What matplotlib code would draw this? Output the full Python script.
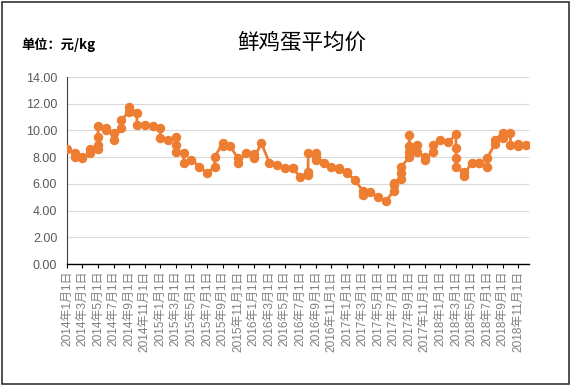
import matplotlib
matplotlib.use("Agg")
import matplotlib.pyplot as plt
from matplotlib.patches import Rectangle

plt.rcParams['font.family'] = ['Noto Sans CJK SC', 'DejaVu Sans']

# Month index 0 = 2014-01 ... 59 = 2018-12; several observations per month
month_values = [
    [8.6], [8.3, 8.0], [8.0, 7.9], [8.3, 8.6], [8.6, 8.9, 9.5, 10.3],
    [10.2, 10.0], [9.8, 9.3], [10.2, 10.8], [11.4, 11.75], [11.3, 10.4],
    [10.4], [10.3],
    [10.2, 9.4], [9.3], [9.5, 8.9, 8.4], [8.3, 7.6], [7.8], [7.3],
    [6.8], [7.3, 8.0], [9.05, 8.8], [8.8], [7.9, 7.6], [8.3],
    [8.2, 7.9], [9.06], [7.6], [7.4], [7.2], [7.2, 7.2],
    [6.5], [6.9, 6.7, 8.3], [8.3, 7.8, 8.1], [7.6], [7.3], [7.2, 7.1],
    [6.9, 6.8], [6.3], [5.5, 5.2], [5.4], [5.0], [4.7],
    [5.5, 6.1, 5.9], [6.4, 6.8, 7.3], [8.0, 9.65, 8.8, 8.4], [8.9, 8.4], [8.0, 7.8], [8.4, 8.9],
    [9.3], [9.1], [9.7, 8.7, 7.9, 7.3], [6.9, 6.6], [7.6], [7.6, 7.6],
    [7.3, 7.9], [9.0, 9.3], [9.8, 9.4], [9.8, 8.9], [8.8, 9.0], [8.9],
]
years = [2014, 2015, 2016, 2017, 2018]
yticks = [0, 2, 4, 6, 8, 10, 12, 14]
title = "鲜鸡蛋平均价"
unit = "单位：元/kg"

xs, ys = [], []
for m, vals in enumerate(month_values):
    for v in vals:
        xs.append(m)
        ys.append(v)

tick_pos = list(range(0, 60, 2))
tick_labels = [f"{years[p // 12]}年{p % 12 + 1}月1日" for p in tick_pos]

lat = ['Liberation Sans', 'Noto Sans CJK SC', 'DejaVu Sans']

fig = plt.figure(figsize=(5.72, 3.86), dpi=100)
ax = fig.add_axes([0.117, 0.316, 0.808, 0.4845])

ax.plot(xs, ys, color='#ED7D31', lw=2.0, marker='o', ms=5.8,
        markerfacecolor='#ED7D31', markeredgecolor='#ED7D31', zorder=3)

ax.set_ylim(0, 14)
ax.set_yticks(yticks)
ax.set_yticklabels([f"{v:.2f}" for v in yticks], color='#595959', fontsize=9, family=lat)
ax.set_xlim(0, 59.4)
ax.set_xticks(tick_pos)
ax.set_xticklabels(tick_labels, rotation=90, color='#7F7F7F', fontsize=8.6, family=lat)
ax.grid(axis='y', color='#D9D9D9', lw=0.8)
ax.set_axisbelow(True)
for s in ['top', 'right']:
    ax.spines[s].set_visible(False)
ax.spines['left'].set_color('#404040')
ax.spines['bottom'].set_color('#000000')
ax.spines['left'].set_linewidth(0.8)
ax.spines['bottom'].set_linewidth(1.0)
ax.tick_params(axis='y', length=0, pad=7)
ax.tick_params(axis='x', length=3, direction='out', color='black', pad=2)

fig.text(0.527, 0.889, title, ha='center', va='center', fontsize=15.5, color='black')
fig.text(0.037, 0.883, unit, ha='left', va='center', fontsize=9.5, color='black', fontweight='bold')

fig.patches.append(Rectangle((0.004, 0.004), 0.99, 0.99, transform=fig.transFigure,
                             fill=False, edgecolor='#333333', lw=1.2))

fig.savefig("out.png", dpi=100)
